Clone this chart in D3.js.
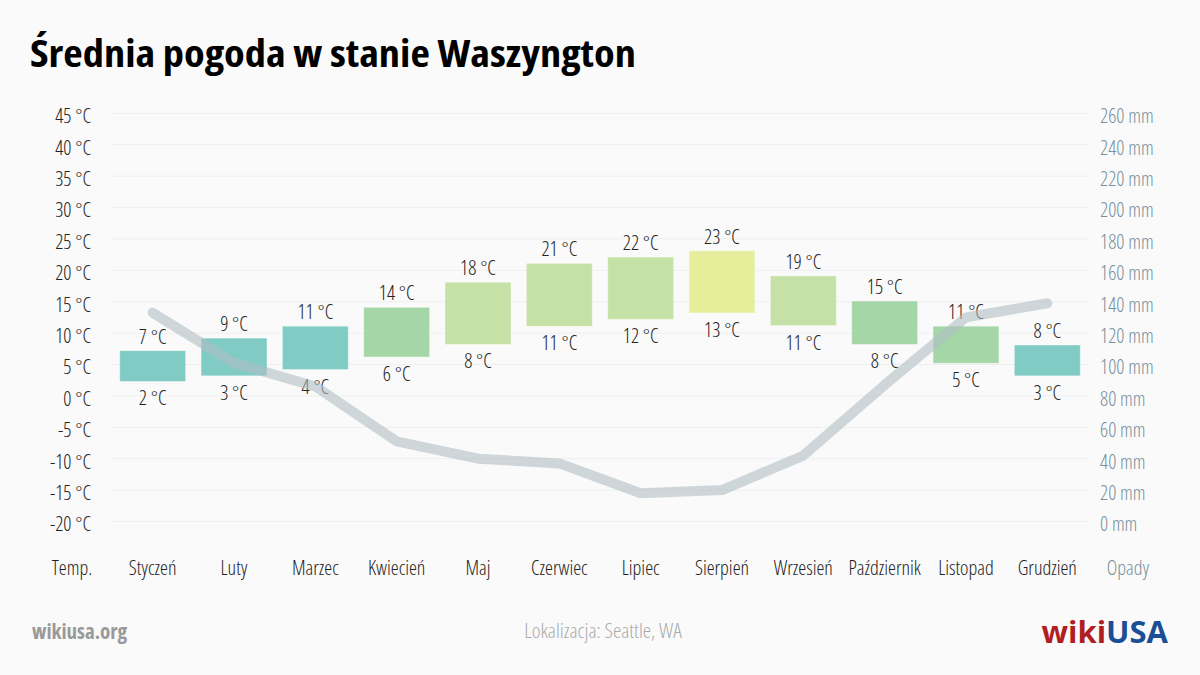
<!DOCTYPE html>
<html>
<head>
<meta charset="utf-8">
<script src="https://cdn.jsdelivr.net/npm/d3@7"></script>
<style>
  body { margin: 0; background: #fafafa; }
  svg { display: block; }
  text { font-family: "Open Sans", "Liberation Sans Narrow", sans-serif; font-stretch: 75%; font-weight: 300; }
  text.title { font-stretch: 87.5%; font-weight: 700; }
</style>
</head>
<body>
<script>
// dane
var months = ["Styczeń","Luty","Marzec","Kwiecień","Maj","Czerwiec","Lipiec","Sierpień","Wrzesień","Październik","Listopad","Grudzień"];
var tempMax = [7.2, 9.2, 11.1, 14.1, 18.1, 21.1, 22.1, 23.1, 19.1, 15.1, 11.1, 8.1];
var tempMin = [2.3, 3.2, 4.2, 6.2, 8.2, 11.1, 12.2, 13.2, 11.2, 8.2, 5.2, 3.2];
var rain = [133, 101, 86, 51, 40, 37, 18, 20, 42, 87, 130, 139];
var tempTicks = [45, 40, 35, 30, 25, 20, 15, 10, 5, 0, -5, -10, -15, -20];
var rainTicks = [260, 240, 220, 200, 180, 160, 140, 120, 100, 80, 60, 40, 20, 0];
var barColors = ["#80cbc4","#80cbc4","#80cbc4","#a5d6a7","#c5e1a5","#c5e1a5","#c5e1a5","#e6ee9c","#c5e1a5","#a5d6a7","#a5d6a7","#80cbc4"];

var w = 1200, h = 675;

var svg = d3.select("body").append("svg")
  .attr("width", w)
  .attr("height", h);

svg.append("rect").attr("width", w).attr("height", h).attr("fill", "#fafafa");

// title
var title = svg.append("text")
  .attr("class", "title")
  .attr("x", 30).attr("y", 67)
  .attr("font-size", 38)
  .attr("fill", "#000")
  .text("Średnia pogoda w stanie Waszyngton");
// jak font nie ma szerokosci semi-condensed, dociagnij do 606px
var tl = title.node().getComputedTextLength();
if (Math.abs(tl - 606) > 12) title.attr("textLength", 606).attr("lengthAdjust", "spacingAndGlyphs");

var x = d3.scaleBand().domain(months).range([112, 1088]).paddingInner(0.19).paddingOuter(0.095);
var y = d3.scaleLinear().domain([-20, 45]).range([521.5, 113.3]);
var y2 = d3.scaleLinear().domain([0, 260]).range([521.5, 113.3]);

// grid
svg.append("g").selectAll("line")
  .data(tempTicks)
  .enter().append("line")
  .attr("x1", 112).attr("x2", 1088)
  .attr("y1", function(d) { return y(d); })
  .attr("y2", function(d) { return y(d); })
  .attr("stroke", "#efefef").attr("stroke-width", 1);

// left axis
var axL = svg.append("g").attr("transform", "translate(91,3)")
  .call(d3.axisLeft(y).tickValues(tempTicks).tickSize(0).tickPadding(0).tickFormat(function(d) { return d + " °C"; }));
axL.select(".domain").remove();
axL.selectAll("text").attr("font-size", 20).attr("fill", "#222").attr("font-family", null);

// right axis
var axR = svg.append("g").attr("transform", "translate(1100,3)")
  .call(d3.axisRight(y2).tickValues(rainTicks).tickSize(0).tickPadding(0).tickFormat(function(d) { return d + " mm"; }));
axR.select(".domain").remove();
axR.selectAll("text").attr("font-size", 20).attr("fill", "#78909c").attr("font-family", null);

// bars
svg.append("g").selectAll("rect")
  .data(months)
  .enter().append("rect")
  .attr("x", function(d) { return x(d); })
  .attr("width", x.bandwidth())
  .attr("y", function(d, i) { return y(tempMax[i]); })
  .attr("height", function(d, i) { return y(tempMin[i]) - y(tempMax[i]); })
  .attr("fill", function(d, i) { return barColors[i]; })
  .attr("stroke", "#ffffff").attr("stroke-opacity", 0.35).attr("stroke-width", 1);

// labels
svg.append("g").selectAll("text")
  .data(months)
  .enter().append("text")
  .attr("x", function(d) { return x(d) + x.bandwidth() / 2; })
  .attr("y", function(d, i) { return y(tempMax[i]) - 7; })
  .attr("text-anchor", "middle")
  .attr("font-size", 20).attr("fill", "#222")
  .text(function(d, i) { return Math.round(tempMax[i]) + " °C"; });

svg.append("g").selectAll("text")
  .data(months)
  .enter().append("text")
  .attr("x", function(d) { return x(d) + x.bandwidth() / 2; })
  .attr("y", function(d, i) { return y(tempMin[i]) + 24; })
  .attr("text-anchor", "middle")
  .attr("font-size", 20).attr("fill", "#222")
  .text(function(d, i) { return Math.round(tempMin[i]) + " °C"; });

// rain line
var line = d3.line()
  .x(function(d, i) { return x(months[i]) + x.bandwidth() / 2; })
  .y(function(d) { return y2(d); });

svg.append("path")
  .datum(rain)
  .attr("d", line)
  .attr("fill", "none")
  .attr("stroke", "#b0bec5")
  .attr("stroke-opacity", 0.6)
  .attr("stroke-width", 10)
  .attr("stroke-linecap", "round")
  .attr("stroke-linejoin", "round");

// month labels
svg.append("g").selectAll("text")
  .data(months)
  .enter().append("text")
  .attr("x", function(d) { return x(d) + x.bandwidth() / 2; })
  .attr("y", 575)
  .attr("text-anchor", "middle")
  .attr("font-size", 20).attr("fill", "#222")
  .text(function(d) { return d; });

svg.append("text").attr("x", 72).attr("y", 575).attr("text-anchor", "middle")
  .attr("font-size", 20).attr("fill", "#222").text("Temp.");
svg.append("text").attr("x", 1128).attr("y", 575).attr("text-anchor", "middle")
  .attr("font-size", 20).attr("fill", "#78909c").text("Opady");

// footer
svg.append("text").attr("x", 32).attr("y", 639)
  .attr("font-size", 21).style("font-weight", 700).attr("fill", "#999")
  .text("wikiusa.org");

svg.append("text").attr("x", 603).attr("y", 638).attr("text-anchor", "middle")
  .attr("font-size", 21).attr("fill", "#aaa")
  .text("Lokalizacja: Seattle, WA");

var logo = svg.append("text").attr("x", 1168).attr("y", 643).attr("text-anchor", "end")
  .attr("font-size", 31)
  .style("font-weight", 700).style("font-stretch", "100%");
logo.append("tspan").attr("fill", "#b01e23").text("wiki");
logo.append("tspan").attr("fill", "#1a4f95").text("USA");
</script>
</body>
</html>
